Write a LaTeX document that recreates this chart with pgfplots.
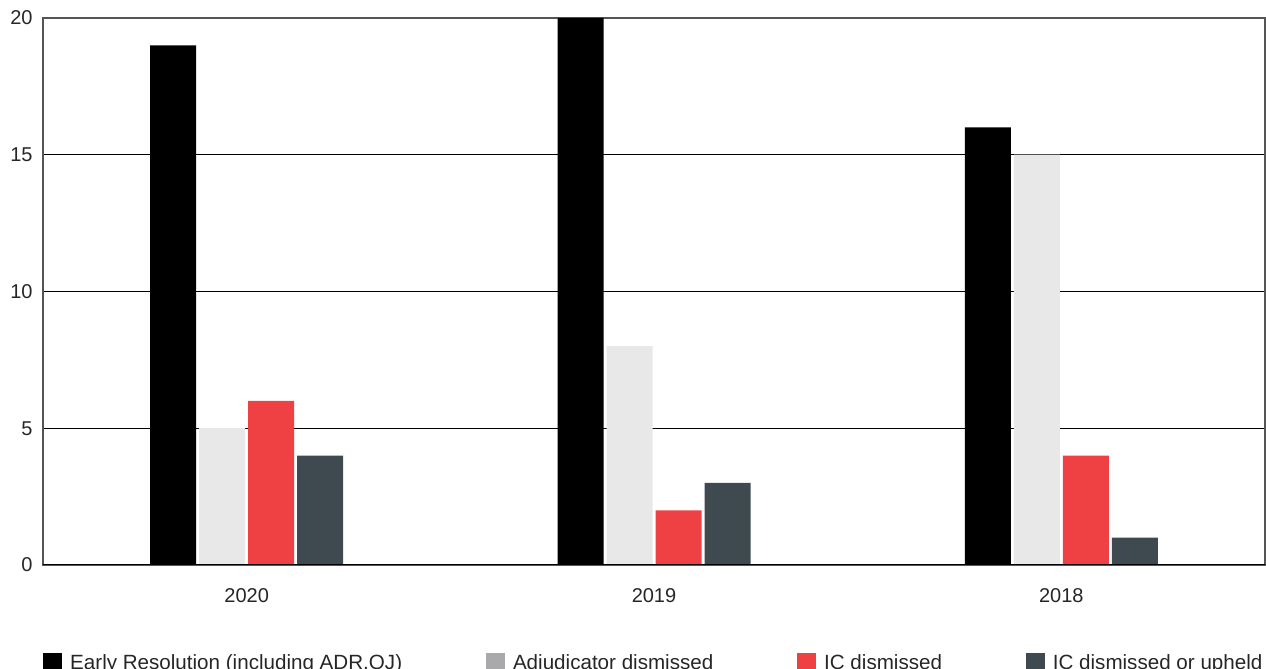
\documentclass[border=0pt]{standalone}
\usepackage{pgfplots}
\pgfplotsset{compat=1.18}
\usepackage{fontspec}
\setmainfont{Liberation Sans}
\definecolor{cblack}{HTML}{000000}
\definecolor{clight}{HTML}{E8E8E8}
\definecolor{clegendgrey}{HTML}{A9A9AB}
\definecolor{cred}{HTML}{EF4044}
\definecolor{cdark}{HTML}{3E4A50}
\definecolor{caxis}{HTML}{555555}
\begin{document}
\begin{tikzpicture}
\path[use as bounding box, clip] (0,0) rectangle (633pt,334.5pt);
\begin{axis}[
  at={(21.5pt,52pt)}, anchor=south west,
  scale only axis, width=611pt, height=273.5pt,
  xmin=-0.5, xmax=2.5, ymin=0, ymax=20,
  xtick={0,1,2}, xticklabels={2020,2019,2018},
  ytick={0,5,10,15,20},
  ymajorgrids, major grid style={black, line width=0.4pt},
  tick style={draw=none},
  axis line style={draw=caxis, line width=0.7pt},
  /pgf/number format/assume math mode=true,
  tick label style={font=\fontsize{10}{12}\selectfont, text=black!85},
  yticklabel style={xshift=-1.7pt},
  xticklabel style={yshift=-8pt},
  legend columns=4,
  legend cell align=left,
  legend style={draw=none, fill=none, at={(rel axis cs:0,-0.155)}, anchor=north west,
    inner sep=0pt, font=\fontsize{10.3}{12}\selectfont, text=black!85,
    /tikz/every odd column/.append style={column sep=2pt},
    /tikz/every even column/.append style={column sep=40pt}},
]
\addplot[ybar, forget plot, bar width=23pt, bar shift=-36.75pt, fill=cblack, draw=none] coordinates {(0,19) (1,20) (2,16)};
\addplot[ybar, forget plot, bar width=23pt, bar shift=-12.25pt, fill=clight, draw=none] coordinates {(0,5) (1,8) (2,15)};
\addplot[ybar, forget plot, bar width=23pt, bar shift=12.25pt, fill=cred, draw=none] coordinates {(0,6) (1,2) (2,4)};
\addplot[ybar, forget plot, bar width=23pt, bar shift=36.75pt, fill=cdark, draw=none] coordinates {(0,4) (1,3) (2,1)};
\draw[black, line width=1.3pt] (rel axis cs:0,0) -- (rel axis cs:1,0);
\addlegendimage{legend image code/.code={\fill[cblack] (0pt,-4pt) rectangle (9pt,5pt);}}
\addlegendimage{legend image code/.code={\fill[clegendgrey] (0pt,-4pt) rectangle (9pt,5pt);}}
\addlegendimage{legend image code/.code={\fill[cred] (0pt,-4pt) rectangle (9pt,5pt);}}
\addlegendimage{legend image code/.code={\fill[cdark] (0pt,-4pt) rectangle (9pt,5pt);}}
\legend{{Early Resolution (including ADR,OJ)}, {Adjudicator dismissed}, {IC dismissed}, {IC dismissed or upheld}}
\end{axis}
\end{tikzpicture}
\end{document}
